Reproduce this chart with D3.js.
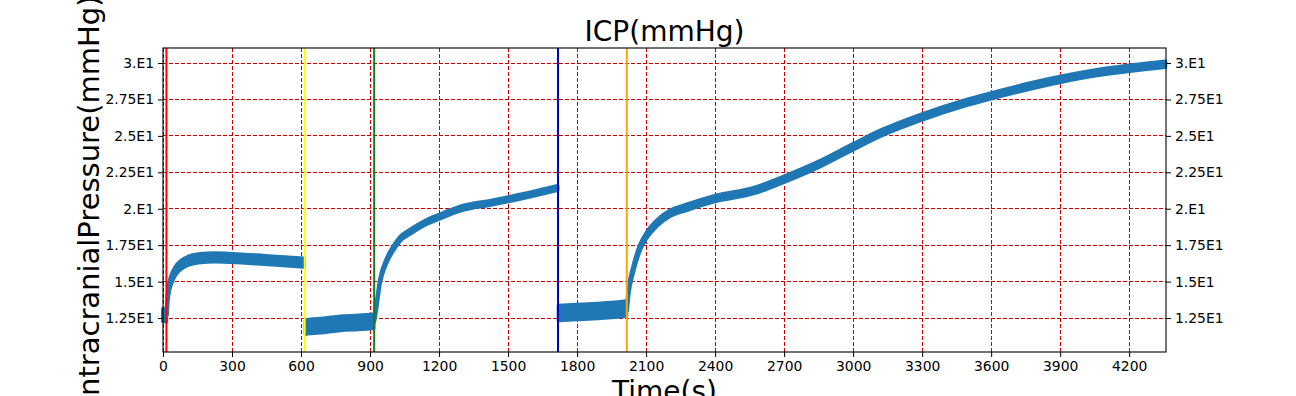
<!DOCTYPE html>
<html lang="en">
<head>
  <meta charset="UTF-8">
  <title>ICP(mmHg)</title>
  <script src="https://d3js.org/d3.v7.min.js"></script>
  <style>
    body {
      margin: 0;
      background: #fff;
    }

    svg {
      display: block;
      font-family: "DejaVu Sans", sans-serif;
    }

    .tick text {
      font-size: 13.9px;
      fill: #000;
    }

    .tick line {
      stroke: #000;
    }

    .grid line {
      stroke: #cc0000;
      stroke-width: 1;
      stroke-dasharray: 4 2;
      shape-rendering: crispEdges;
    }
  </style>
</head>
<body>
  <svg width="1296" height="396"></svg>

  <script>
    // time (s) and ICP centre value (mmHg) for each recorded segment
    const seg1Time = [0, 14];
    const seg1Icp = [12.7, 12.7];
    const seg2Time = [17, 20, 23, 38, 52, 81, 110, 154, 226, 300, 443, 612];
    const seg2Icp = [13.0, 13.8, 14.3, 15.22, 15.68, 16.18, 16.43, 16.59, 16.66, 16.62, 16.48, 16.3];
    const seg3Time = [620, 624, 700, 770, 850, 915];
    const seg3Icp = [11.85, 11.9, 12.0, 12.13, 12.2, 12.27];
    const seg4Time = [918, 922, 943, 972, 1001, 1030, 1074, 1146, 1197, 1291, 1436, 1581, 1715];
    const seg4Icp = [12.4, 12.7, 15.0, 16.43, 17.28, 17.92, 18.42, 19.09, 19.43, 20.0, 20.44, 20.92, 21.42];
    const seg5Time = [1720, 1760, 1850, 1950, 2014];
    const seg5Icp = [12.85, 12.88, 12.95, 13.05, 13.15];
    const seg6Time = [2017, 2023, 2045, 2074, 2103, 2146, 2204, 2277, 2403, 2567, 2701, 2857,
                      3001, 3117, 3301, 3480, 3603, 3770, 3903, 4059, 4201, 4357];
    const seg6Icp = [13.2, 14.19, 15.9, 17.35, 18.2, 19.0, 19.69, 20.1, 20.71, 21.24, 22.04, 23.1,
                     24.26, 25.17, 26.31, 27.23, 27.76, 28.42, 28.88, 29.34, 29.64, 29.91];
    // half spread of the oscillation in each segment (mmHg)
    const segSpread = [0.42, 0.28, 0.47, 0.14, 0.5, 0.19];

    const eventTimes = [15, 616, 918, 1717, 2016];
    const eventColors = ["#ff0000", "#ffff00", "#1a7a1a", "#0000cd", "#ffa500"];

    const xTicks = [0, 300, 600, 900, 1200, 1500, 1800, 2100, 2400, 2700, 3000, 3300, 3600, 3900, 4200];
    const yTicks = [12.5, 15, 17.5, 20, 22.5, 25, 27.5, 30];
    const yTickLabels = ["1.25E1", "1.5E1", "1.75E1", "2.E1", "2.25E1", "2.5E1", "2.75E1", "3.E1"];

    const svg = d3.select("svg");
    const width = +svg.attr("width");
    const height = +svg.attr("height");
    const margin = {top: 48, right: 130, bottom: 44, left: 163};
    const innerW = width - margin.left - margin.right;
    const innerH = height - margin.top - margin.bottom;

    const x = d3.scaleLinear().domain([0, 4360]).range([0, innerW]);
    const y = d3.scaleLinear().domain([10.17, 31.03]).range([innerH, 0]);

    const g = svg.append("g")
      .attr("transform", `translate(${margin.left},${margin.top})`);

    // grid
    const grid = g.append("g").attr("class", "grid");
    grid.selectAll("line.v")
      .data(xTicks)
      .enter().append("line")
      .attr("class", "v")
      .attr("x1", d => x(d)).attr("x2", d => x(d))
      .attr("y1", 0).attr("y2", innerH);
    grid.selectAll("line.h")
      .data(yTicks)
      .enter().append("line")
      .attr("class", "h")
      .attr("x1", 0).attr("x2", innerW)
      .attr("y1", d => y(d)).attr("y2", d => y(d));

    // signal band
    const segments = [
      [seg1Time, seg1Icp], [seg2Time, seg2Icp], [seg3Time, seg3Icp],
      [seg4Time, seg4Icp], [seg5Time, seg5Icp], [seg6Time, seg6Icp]
    ].map(([ts, vs], i) => ts.map((t, j) => ({t: t, v: vs[j], s: segSpread[i]})));

    const band = d3.area()
      .x(d => x(d.t))
      .y0(d => y(d.v - d.s))
      .y1(d => y(d.v + d.s))
      .curve(d3.curveMonotoneX);

    g.append("g")
      .selectAll("path")
      .data(segments)
      .enter().append("path")
      .attr("d", band)
      .attr("fill", "#1f77b4")
      .attr("stroke", "#1f77b4")
      .attr("stroke-width", 4)
      .attr("stroke-linejoin", "round");

    // event markers
    g.append("g")
      .selectAll("line")
      .data(eventTimes)
      .enter().append("line")
      .attr("x1", d => x(d)).attr("x2", d => x(d))
      .attr("y1", 0).attr("y2", innerH)
      .attr("stroke", (d, i) => eventColors[i])
      .attr("stroke-width", 2);

    // axes
    const xAxis = g.append("g")
      .attr("transform", `translate(0,${innerH})`)
      .call(d3.axisBottom(x).tickValues(xTicks).tickSize(5).tickPadding(4).tickFormat(d => d));
    xAxis.select(".domain").remove();

    const fmtY = d => yTickLabels[yTicks.indexOf(d)];
    const yLeft = g.append("g")
      .call(d3.axisLeft(y).tickValues(yTicks).tickSize(5).tickPadding(4).tickFormat(fmtY));
    yLeft.select(".domain").remove();

    const yRight = g.append("g")
      .attr("transform", `translate(${innerW},0)`)
      .call(d3.axisRight(y).tickValues(yTicks).tickSize(5).tickPadding(4).tickFormat(fmtY));
    yRight.select(".domain").remove();

    svg.selectAll(".tick text").attr("font-family", "DejaVu Sans");

    g.append("rect")
      .attr("width", innerW)
      .attr("height", innerH)
      .attr("fill", "none")
      .attr("stroke", "#000")
      .attr("stroke-width", 1.1);

    // titles
    svg.append("text")
      .attr("x", margin.left + innerW / 2)
      .attr("y", 41)
      .attr("text-anchor", "middle")
      .attr("font-size", 28)
      .text("ICP(mmHg)");

    svg.append("text")
      .attr("x", margin.left + innerW / 2)
      .attr("y", 401)
      .attr("text-anchor", "middle")
      .attr("font-size", 28)
      .text("Time(s)");

    svg.append("text")
      .attr("transform", `translate(99,${margin.top + innerH / 2}) rotate(-90)`)
      .attr("text-anchor", "middle")
      .attr("font-size", 29)
      .text("IntracranialPressure(mmHg)");
  </script>
</body>
</html>
